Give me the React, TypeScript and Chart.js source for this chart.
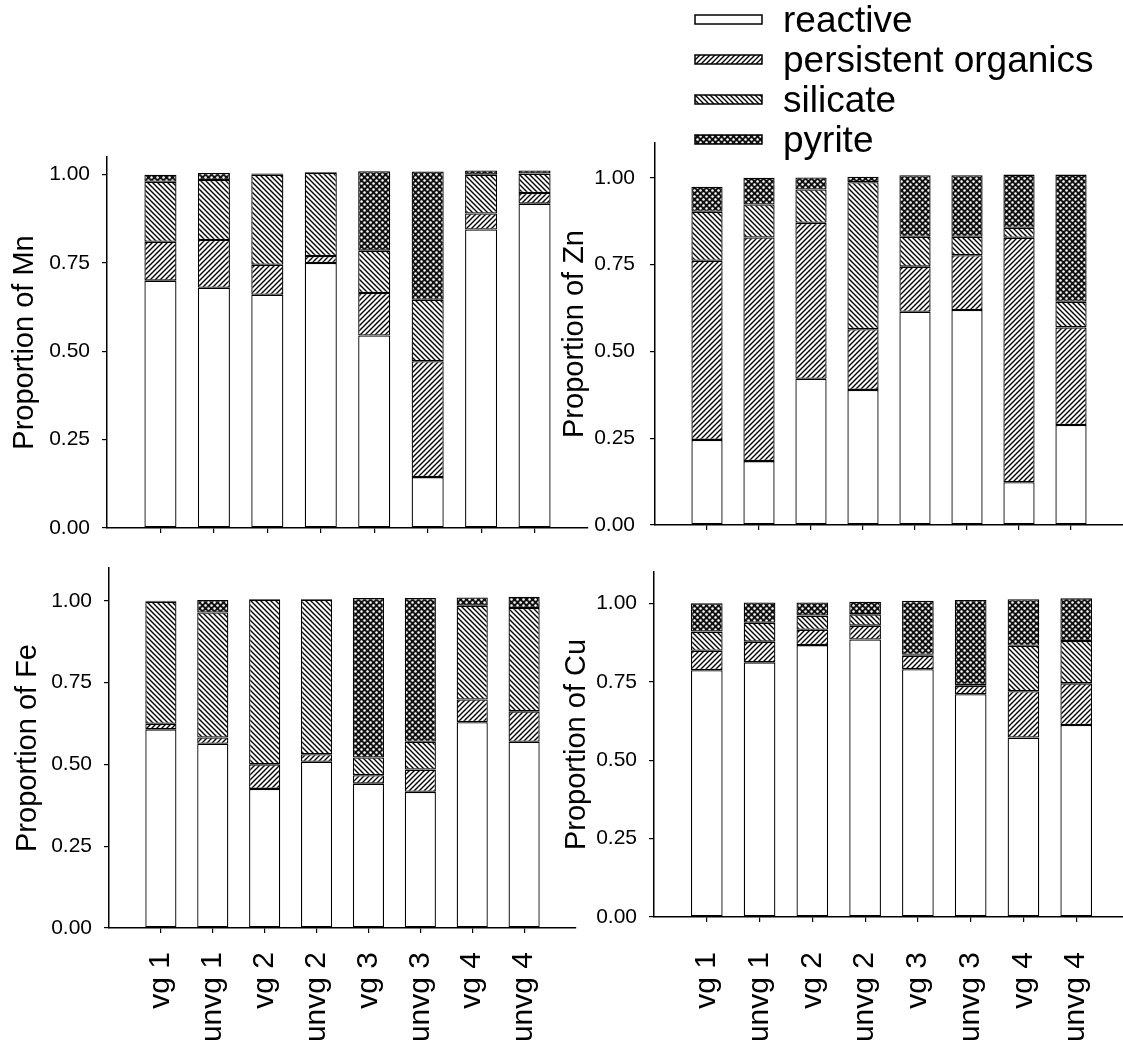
import React, { useEffect, useRef } from 'react';
import { Chart, registerables } from 'chart.js';

Chart.register(...registerables);

// ---------- data ----------
const categories = ['vg 1', 'unvg 1', 'vg 2', 'unvg 2', 'vg 3', 'unvg 3', 'vg 4', 'unvg 4'];
const fractionLabels = ['reactive', 'persistent organics', 'silicate', 'pyrite'];
const yTickStep = 0.25;

const mnReactive = [0.70, 0.68, 0.66, 0.75, 0.545, 0.144, 0.845, 0.918];
const mnPersistent = [0.11, 0.135, 0.085, 0.02, 0.12, 0.328, 0.045, 0.03];
const mnSilicate = [0.17, 0.17, 0.255, 0.235, 0.12, 0.174, 0.11, 0.055];
const mnPyrite = [0.02, 0.02, 0.003, 0.002, 0.225, 0.363, 0.012, 0.009];

const znReactive = [0.245, 0.184, 0.421, 0.389, 0.614, 0.619, 0.123, 0.288];
const znPersistent = [0.516, 0.644, 0.449, 0.175, 0.13, 0.158, 0.704, 0.281];
const znSilicate = [0.141, 0.095, 0.096, 0.423, 0.086, 0.053, 0.029, 0.074];
const znPyrite = [0.072, 0.077, 0.035, 0.016, 0.177, 0.177, 0.153, 0.366];

const feReactive = [0.607, 0.563, 0.425, 0.508, 0.441, 0.416, 0.629, 0.569];
const fePersistent = [0.017, 0.019, 0.075, 0.023, 0.026, 0.068, 0.069, 0.093];
const feSilicate = [0.373, 0.382, 0.503, 0.472, 0.054, 0.085, 0.287, 0.316];
const fePyrite = [0.003, 0.038, 0.002, 0.002, 0.487, 0.439, 0.025, 0.034];

const cuReactive = [0.787, 0.812, 0.867, 0.885, 0.79, 0.71, 0.572, 0.612];
const cuPersistent = [0.062, 0.066, 0.049, 0.044, 0.043, 0.027, 0.148, 0.133];
const cuSilicate = [0.061, 0.06, 0.045, 0.036, 0.003, 0.003, 0.145, 0.135];
const cuPyrite = [0.09, 0.065, 0.042, 0.04, 0.172, 0.271, 0.148, 0.136];

// ---------- styling / layout ----------
const FONT = "'Liberation Sans', Arial, Helvetica, sans-serif";

type PanelCfg = {
  title: string;
  values: number[][];
  box: { left: number; top: number; width: number; height: number };
  yWidth: number;
  xHeight: number;
  padTop: number;
  padRight: number;
  yMax: number;
  titlePad: number;
  tickPad: number;
  xPad: number;
  showX: boolean;
  legend: boolean;
};

const panels: PanelCfg[] = [
  {
    title: 'Proportion of Mn',
    values: [mnReactive, mnPersistent, mnSilicate, mnPyrite],
    box: { left: 0, top: 140, width: 600, height: 400 },
    yWidth: 107, xHeight: 12, padTop: 17, padRight: 12, yMax: 1.05,
    titlePad: 7.6, tickPad: 12, xPad: 20, showX: false, legend: false,
  },
  {
    title: 'Proportion of Zn',
    values: [znReactive, znPersistent, znSilicate, znPyrite],
    box: { left: 540, top: 0, width: 583, height: 540 },
    yWidth: 115, xHeight: 15, padTop: 143, padRight: 0, yMax: 1.1,
    titlePad: 17.6, tickPad: 15, xPad: 20, showX: false, legend: true,
  },
  {
    title: 'Proportion of Fe',
    values: [feReactive, fePersistent, feSilicate, fePyrite],
    box: { left: 0, top: 550, width: 600, height: 501 },
    yWidth: 109, xHeight: 123, padTop: 18, padRight: 24, yMax: 1.1,
    titlePad: 10.6, tickPad: 12, xPad: 19, showX: true, legend: false,
  },
  {
    title: 'Proportion of Cu',
    values: [cuReactive, cuPersistent, cuSilicate, cuPyrite],
    box: { left: 540, top: 550, width: 600, height: 501 },
    yWidth: 114, xHeight: 134, padTop: 22, padRight: 11, yMax: 1.1,
    titlePad: 19.6, tickPad: 12, xPad: 30, showX: true, legend: false,
  },
];

function makeHatch(dir: 1 | -1): CanvasPattern | string {
  const s = 5;
  const c = document.createElement('canvas');
  c.width = s; c.height = s;
  const g = c.getContext('2d');
  if (!g) return '#888';
  g.fillStyle = '#fff';
  g.fillRect(0, 0, s, s);
  g.strokeStyle = '#000';
  g.lineWidth = 1.4;
  g.beginPath();
  if (dir === 1) {
    g.moveTo(0, s); g.lineTo(s, 0);
    g.moveTo(-s / 2, s / 2); g.lineTo(s / 2, -s / 2);
    g.moveTo(s / 2, s + s / 2); g.lineTo(s + s / 2, s / 2);
  } else {
    g.moveTo(0, 0); g.lineTo(s, s);
    g.moveTo(-s / 2, s / 2); g.lineTo(s / 2, s + s / 2);
    g.moveTo(s / 2, -s / 2); g.lineTo(s + s / 2, s / 2);
  }
  g.stroke();
  const p = g.createPattern(c, 'repeat');
  return p || '#888';
}

function makeDots(): CanvasPattern | string {
  const s = 6;
  const c = document.createElement('canvas');
  c.width = s; c.height = s;
  const g = c.getContext('2d');
  if (!g) return '#444';
  g.fillStyle = '#111';
  g.fillRect(0, 0, s, s);
  g.fillStyle = '#fff';
  g.beginPath(); g.arc(1.5, 1.5, 1.25, 0, Math.PI * 2); g.fill();
  g.beginPath(); g.arc(4.5, 4.5, 1.25, 0, Math.PI * 2); g.fill();
  const p = g.createPattern(c, 'repeat');
  return p || '#444';
}

const legendPlugin = {
  id: 'patternLegend',
  afterDraw(chart: any) {
    const opts = chart.options.plugins.patternLegend;
    if (!opts || !opts.show) return;
    const ctx = chart.ctx as CanvasRenderingContext2D;
    ctx.save();
    chart.data.datasets.forEach((ds: any, i: number) => {
      const cy = opts.top + i * opts.gap;
      ctx.fillStyle = ds.backgroundColor;
      ctx.fillRect(opts.x, cy - 4.5, opts.w, 9);
      ctx.strokeStyle = '#000';
      ctx.lineWidth = 1.5;
      ctx.strokeRect(opts.x, cy - 4.5, opts.w, 9);
      ctx.fillStyle = '#000';
      ctx.font = `37px ${FONT}`;
      ctx.textBaseline = 'alphabetic';
      ctx.textAlign = 'left';
      ctx.fillText(ds.label, opts.textX, cy + 12.5);
    });
    ctx.restore();
  },
};

function Panel({ cfg }: { cfg: PanelCfg }) {
  const ref = useRef<HTMLCanvasElement | null>(null);
  useEffect(() => {
    const canvas = ref.current;
    if (!canvas) return;
    const fills = ['#ffffff', makeHatch(1), makeHatch(-1), makeDots()];
    const gridOpts = {
      drawOnChartArea: false, drawTicks: true, tickLength: 5, color: '#000', lineWidth: 1.2, offset: false,
    };
    const borderOpts = { display: true, color: '#000', width: 1.5 };
    const chart = new Chart(canvas, {
      type: 'bar',
      data: {
        datasets: fractionLabels.map((label, k) => ({
          label,
          data: cfg.values[k].map((v, i) => ({ x: i, y: v })),
          backgroundColor: fills[k] as any,
          borderColor: '#000',
          borderWidth: 1.3,
          borderSkipped: false,
          barPercentage: 0.6,
          categoryPercentage: 1,
        })),
      },
      options: {
        responsive: false,
        animation: false,
        devicePixelRatio: 1,
        layout: { padding: { top: cfg.padTop, right: cfg.padRight, left: 0, bottom: 0 } },
        plugins: {
          legend: { display: false },
          tooltip: { enabled: false },
          patternLegend: { show: cfg.legend, x: 155, w: 67, textX: 243, top: 19.5, gap: 40 },
        } as any,
        scales: {
          x: {
            type: 'linear',
            min: -1,
            max: categories.length,
            stacked: true,
            offset: false,
            afterBuildTicks: (s: any) => {
              s.ticks = s.ticks.filter((t: any) => t.value >= 0 && t.value < categories.length);
            },
            afterFit: (s: any) => {
              s.height = cfg.xHeight;
              s.paddingLeft = 0; s.paddingRight = 0; s.paddingTop = 0; s.paddingBottom = 0;
            },
            grid: gridOpts,
            border: borderOpts,
            ticks: {
              stepSize: 1,
              autoSkip: false,
              minRotation: 90,
              maxRotation: 90,
              padding: cfg.xPad,
              color: '#000',
              font: { size: 30, family: FONT },
              callback: (v: any) => (cfg.showX ? categories[Number(v)] ?? '' : ''),
            },
          },
          y: {
            type: 'linear',
            min: 0,
            max: cfg.yMax,
            stacked: true,
            afterFit: (s: any) => {
              s.width = cfg.yWidth;
              s.paddingLeft = 0; s.paddingRight = 0; s.paddingTop = 0; s.paddingBottom = 0;
            },
            grid: gridOpts,
            border: borderOpts,
            ticks: {
              stepSize: yTickStep,
              includeBounds: false,
              padding: cfg.tickPad,
              color: '#000',
              font: { size: 21, family: FONT },
              callback: (v: any) => Number(v).toFixed(2),
            },
            title: {
              display: true,
              text: cfg.title,
              color: '#000',
              font: { size: 29, family: FONT, lineHeight: 1.2 },
              padding: { top: cfg.titlePad, bottom: 0 },
            },
          },
        } as any,
      },
      plugins: [legendPlugin],
    });
    return () => chart.destroy();
  }, [cfg]);
  return (
    <canvas
      ref={ref}
      width={cfg.box.width}
      height={cfg.box.height}
      style={{
        position: 'absolute',
        left: cfg.box.left,
        top: cfg.box.top,
        width: cfg.box.width,
        height: cfg.box.height,
      }}
    />
  );
}

export default function App() {
  return (
    <div
      style={{
        position: 'absolute',
        left: 0,
        top: 0,
        width: 1123,
        height: 1051,
        overflow: 'hidden',
        background: '#fff',
      }}
    >
      {panels.map((p) => (
        <Panel key={p.title} cfg={p} />
      ))}
    </div>
  );
}
